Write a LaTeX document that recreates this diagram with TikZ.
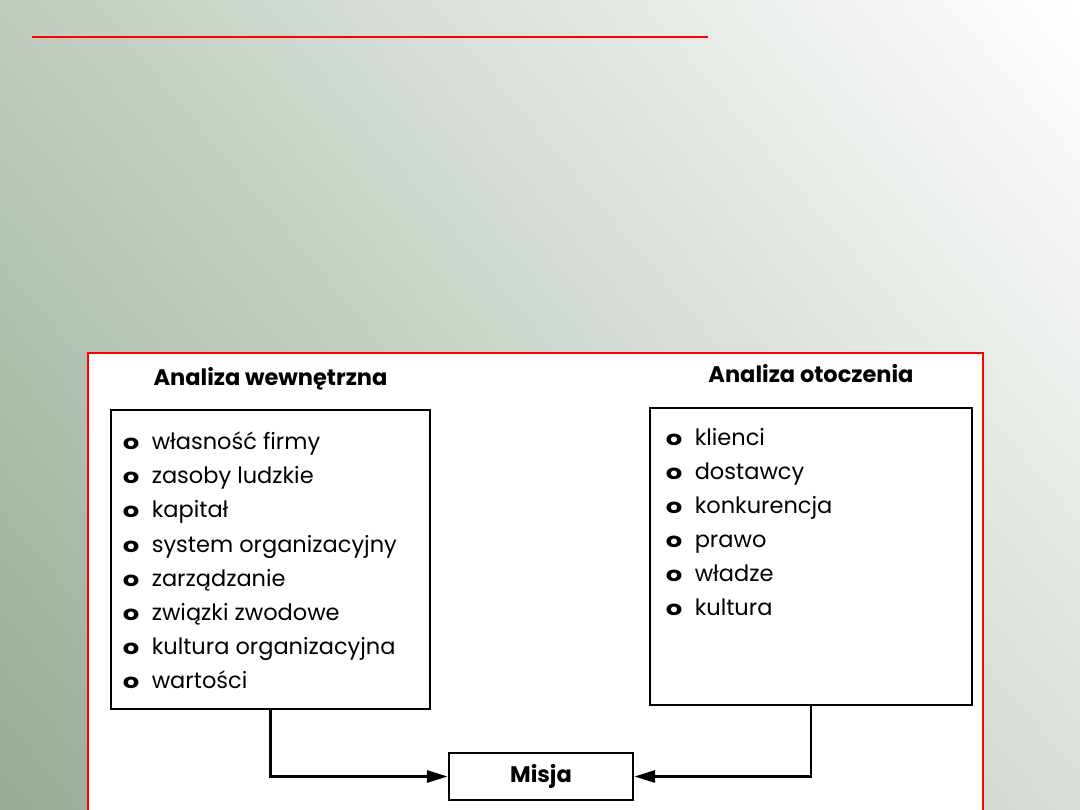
\documentclass[tikz,border=0pt]{standalone}
\usepackage{fontspec}
\setmainfont{Poppins}
\usetikzlibrary{arrows.meta, positioning}
\definecolor{slidegreen}{HTML}{98AC96}
\pgfdeclareverticalshading{slidebg}{100bp}{color(0bp)=(slidegreen);
  color(15bp)=(slidegreen); color(85bp)=(white); color(100bp)=(white)}
\tikzset{
  font=\fontsize{16}{20}\selectfont,          % list text size
  listbox/.style  = {rectangle, draw, line width=1.8pt, fill=white,
                     inner sep=0pt},
  item/.style     = {anchor=base west, inner sep=0pt},
  heading/.style  = {font=\fontsize{16}{20}\selectfont\bfseries},
  arrow/.style    = {-{Triangle[length=5.2mm, width=3mm]}, line width=2pt}
}
\newcommand{\blt}{\makebox[7.2mm][l]{\scalebox{1.15}[0.9]{\textbf{o}}}}

\begin{document}
\begin{tikzpicture}[x=0.025cm, y=-0.025cm]
  \useasboundingbox (0,0) rectangle (1080,810);
  % slide background
  \shade[shading=slidebg, shading angle=-50] (0,0) rectangle (1080,810);
  \draw[red, line width=1.4pt] (32,37) -- (708,37);
  % white panel
  \fill[white] (88,353) rectangle (983,810);
  \draw[red, line width=1.2pt] (88,815) |- (983,353) -- (983,815);
  % boxes
  \node[listbox, minimum width=7.975cm, minimum height=7.475cm] (wbox) at (270.5,559.5) {};
  \node[listbox, minimum width=8.05cm, minimum height=7.425cm] (obox) at (811,556.5) {};
  \node[listbox, heading, minimum width=4.6cm, minimum height=1.175cm] (misja) at (541,776.5) {Misja};
  \node[heading, above=0.58cm of wbox.north, anchor=base] (whead) {Analiza wewnętrzna};
  \node[heading, above=0.6cm of obox.north, anchor=base] (ohead) {Analiza otoczenia};
  % lists
  \foreach \t [count=\i] in {własność firmy, zasoby ludzkie, kapitał,
      system organizacyjny, zarządzanie, związki zwodowe,
      kultura organizacyjna, wartości}
    \node[item] (w\i) at ([shift={(13,{41+34.1*(\i-1)})}]wbox.north west) {\blt\t};
  \foreach \t [count=\i] in {klienci, dostawcy, konkurencja, prawo, władze, kultura}
    \node[item] (o\i) at ([shift={(17,{39+34*(\i-1)})}]obox.north west) {\blt\t};
  % connectors
  \draw[arrow] (wbox.south) |- (misja.west);
  \draw[arrow] (obox.south) |- (misja.east);
\end{tikzpicture}
\end{document}
